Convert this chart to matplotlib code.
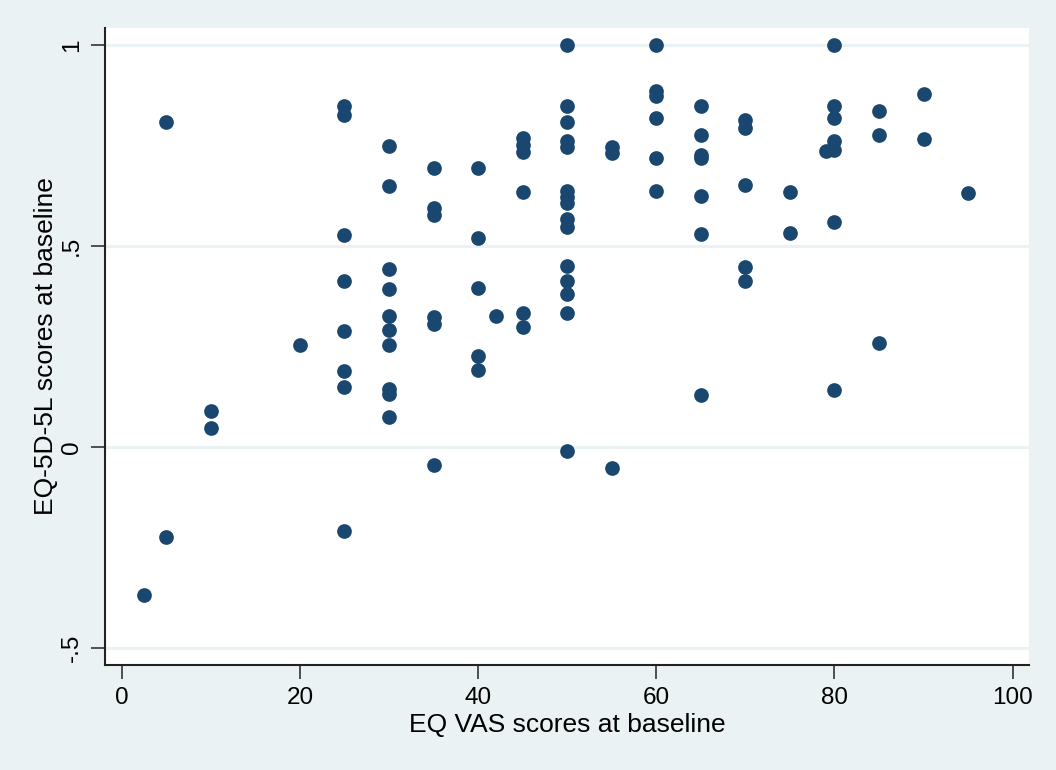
import numpy as np
import matplotlib
matplotlib.use("Agg")
import matplotlib.pyplot as plt

# EQ VAS (x) and EQ-5D-5L (y) at baseline
vas = [2.5,
       5, 5,
       10, 10,
       20,
       25, 25, 25, 25, 25, 25, 25, 25,
       30, 30, 30, 30, 30, 30, 30, 30, 30, 30,
       35, 35, 35, 35, 35, 35,
       40, 40, 40, 40, 40,
       42,
       45, 45, 45, 45, 45, 45,
       50, 50, 50, 50, 50, 50, 50, 50, 50, 50, 50, 50, 50, 50, 50,
       55, 55, 55,
       60, 60, 60, 60, 60, 60,
       65, 65, 65, 65, 65, 65, 65,
       70, 70, 70, 70, 70,
       75, 75,
       79,
       80, 80, 80, 80, 80, 80, 80,
       85, 85, 85,
       90, 90,
       95]

eq5d = [-0.368,
        0.808, -0.224,
        0.091, 0.047,
        0.254,
        0.848, 0.826, 0.527, 0.413, 0.289, 0.189, 0.149, -0.209,
        0.749, 0.650, 0.443, 0.393, 0.326, 0.292, 0.254, 0.144, 0.131, 0.075,
        0.695, 0.595, 0.577, 0.323, 0.305, -0.045,
        0.694, 0.519, 0.395, 0.226, 0.192,
        0.326,
        0.768, 0.750, 0.733, 0.634, 0.333, 0.298,
        1.0, 0.848, 0.809, 0.760, 0.747, 0.637, 0.623, 0.606, 0.566, 0.547,
        0.450, 0.413, 0.381, 0.333, -0.009,
        0.747, 0.732, -0.053,
        1.0, 0.886, 0.874, 0.818, 0.720, 0.638,
        0.847, 0.777, 0.726, 0.718, 0.625, 0.531, 0.129,
        0.813, 0.794, 0.651, 0.447, 0.413,
        0.634, 0.532,
        0.735,
        1.0, 0.848, 0.818, 0.762, 0.739, 0.559, 0.142,
        0.836, 0.777, 0.259,
        0.878, 0.767,
        0.631]

x_ticks = [0, 20, 40, 60, 80, 100]
y_ticks = [-0.5, 0, 0.5, 1]
y_tick_labels = ["-.5", "0", ".5", "1"]

bg = "#EAF2F3"
navy = "#1A476F"

plt.rcParams["font.family"] = ["Liberation Sans", "DejaVu Sans"]

fig = plt.figure(figsize=(10.56, 7.70), dpi=100, facecolor=bg)
ax = fig.add_axes([105 / 1056, 1 - 665 / 770, 924 / 1056, 637 / 770])
ax.set_facecolor("white")

# horizontal grid in the Stata s2color style
for yt in y_ticks:
    ax.axhline(yt, color=bg, linewidth=2.2, zorder=1)

ax.scatter(vas, eq5d, s=112, color=navy, linewidths=0, zorder=3)

ax.set_xlim(-1.87, 101.83)
ax.set_ylim(-0.5415, 1.042)

ax.set_xticks(x_ticks)
ax.set_yticks(y_ticks)
ax.set_yticklabels(y_tick_labels, rotation=90, va="center")
ax.tick_params(axis="both", length=10, width=1.2, color="#333333",
               labelsize=17.5, pad=6)

for side in ["top", "right"]:
    ax.spines[side].set_visible(False)
for side in ["left", "bottom"]:
    ax.spines[side].set_linewidth(1.5)
    ax.spines[side].set_color("#222222")

ax.set_xlabel("EQ VAS scores at baseline", fontsize=19, labelpad=3)
ax.set_ylabel("EQ-5D-5L scores at baseline", fontsize=19, labelpad=2)

fig.savefig("out.png", dpi=100, facecolor=bg)
